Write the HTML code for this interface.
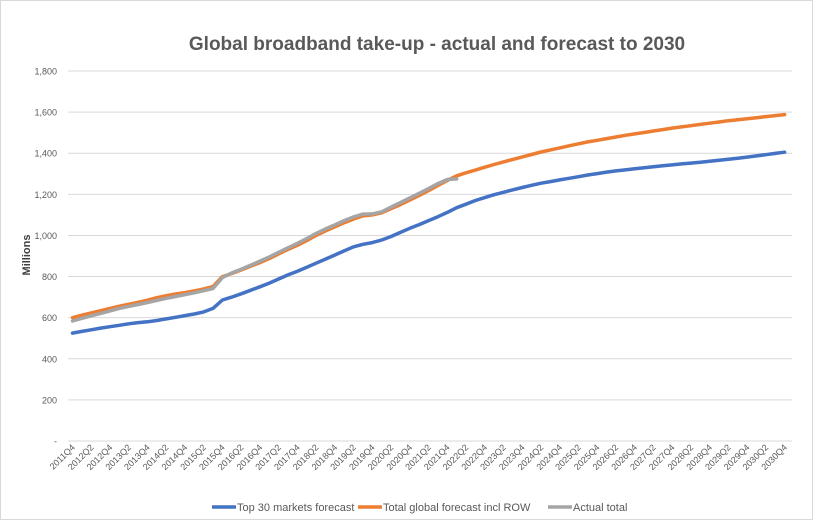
<!DOCTYPE html>
<html><head><meta charset="utf-8"><style>
html,body{margin:0;padding:0;background:#fff;}
svg{display:block;font-family:"Liberation Sans",sans-serif;}
</style></head><body>
<svg id="chart" width="813" height="520" viewBox="0 0 813 520">
<rect x="0.5" y="0.5" width="812" height="519" fill="#fff" stroke="#d9d9d9"/>
<text x="437" y="50" text-anchor="middle" font-size="19" font-weight="bold" fill="#595959">Global broadband take-up - actual and forecast to 2030</text>
<text transform="translate(30,255) rotate(-90)" text-anchor="middle" font-size="11" font-weight="bold" fill="#404040">Millions</text>
<g id="grid"></g><g id="xlabels"></g><g id="series"></g>
<g>
<line x1="212" y1="507" x2="236" y2="507" stroke="#4472c4" stroke-width="3.5"/>
<text x="237" y="511" font-size="11" fill="#595959">Top 30 markets forecast</text>
<line x1="358" y1="507" x2="382" y2="507" stroke="#ed7d31" stroke-width="3.5"/>
<text x="383" y="511" font-size="11" fill="#595959">Total global forecast incl ROW</text>
<line x1="548" y1="507" x2="572" y2="507" stroke="#a5a5a5" stroke-width="3.5"/>
<text x="573" y="511" font-size="11" fill="#595959">Actual total</text>
</g>
</svg>
<script>
const top30 = [525,533,541,549,556,563,570,576,580,586,594,602,610,618,628,645,686,700,716,733,750,768,788,808,826,845,865,885,905,925,945,957,965,978,995,1015,1035,1053,1072,1091,1112,1135,1152,1170,1184,1198,1210,1222,1233,1244,1254,1262,1270,1278,1286,1294,1301,1308,1314,1319,1324,1329,1334,1339,1343,1348,1352,1356,1361,1366,1371,1376,1381,1387,1393,1399,1405];
const totalGlobal = [600,612,623,634,645,656,665,675,685,697,707,715,722,730,740,751,800,815,832,850,868,888,910,932,952,975,1000,1022,1042,1062,1080,1095,1100,1110,1130,1150,1172,1195,1218,1243,1268,1290,1305,1318,1332,1345,1358,1370,1382,1394,1406,1416,1426,1436,1446,1455,1463,1471,1479,1487,1494,1501,1508,1515,1522,1528,1534,1540,1546,1552,1558,1563,1568,1573,1578,1583,1588];
const actualTotal = [584,597,609,621,633,645,655,664,674,684,694,703,712,721,731,742,795,818,836,855,875,895,918,940,962,985,1010,1032,1052,1072,1090,1104,1105,1115,1138,1160,1182,1205,1228,1252,1272,1275];
const yTicks = [0,200,400,600,800,1000,1200,1400,1600,1800];
const yTickLabels = ["-","200","400","600","800","1,000","1,200","1,400","1,600","1,800"];
const categories = [];
for (let yr = 2011; yr <= 2030; yr++) for (let q = 1; q <= 4; q++) { if (yr === 2011 && q < 4) continue; categories.push(yr + "Q" + q); }

const NS = "http://www.w3.org/2000/svg";
const x0 = 72.5, step = 9.37;
function xs(i){ return x0 + i * step; }
function ys(v){ return 441 - v / 1800 * 370; }
function mk(tag, attrs, parent){ const e = document.createElementNS(NS, tag); for (const k in attrs) e.setAttribute(k, attrs[k]); parent.appendChild(e); return e; }

const grid = document.getElementById('grid');
yTicks.forEach((t, i) => {
  const ln = mk('line', {x1: 68, x2: 792, y1: ys(t), y2: ys(t), stroke: '#d9d9d9', 'stroke-width': 1}, grid);
  
  
  const tx = mk('text', {x: 57, y: ys(t) + 3.5, 'text-anchor': 'end', 'font-size': 9, fill: '#595959'}, grid);
  tx.textContent = yTickLabels[i];
  
  
});
const xl = document.getElementById('xlabels');
categories.forEach((c, i) => {
  if (i % 2) return;
  const tx = mk('text', {transform: 'translate(' + (xs(i) + 3) + ',448) rotate(-45)', 'text-anchor': 'end', 'font-size': 9, fill: '#595959'}, xl);
  tx.textContent = c;
  
  
});
const sg = document.getElementById('series');
function line(data, color, name){
  const d = data.map((v, i) => (i ? 'L' : 'M') + xs(i).toFixed(1) + ',' + ys(v).toFixed(1)).join(' ');
  const p = mk('path', {d: d, fill: 'none', stroke: color, 'stroke-width': 3.5, 'stroke-linejoin': 'round', 'stroke-linecap': 'round'}, sg);
  
  
}
line(top30, '#4472c4', 'series-top30-line');
line(totalGlobal, '#ed7d31', 'series-total-global-line');
line(actualTotal, '#a5a5a5', 'series-actual-total-line');
</script>
</body></html>
